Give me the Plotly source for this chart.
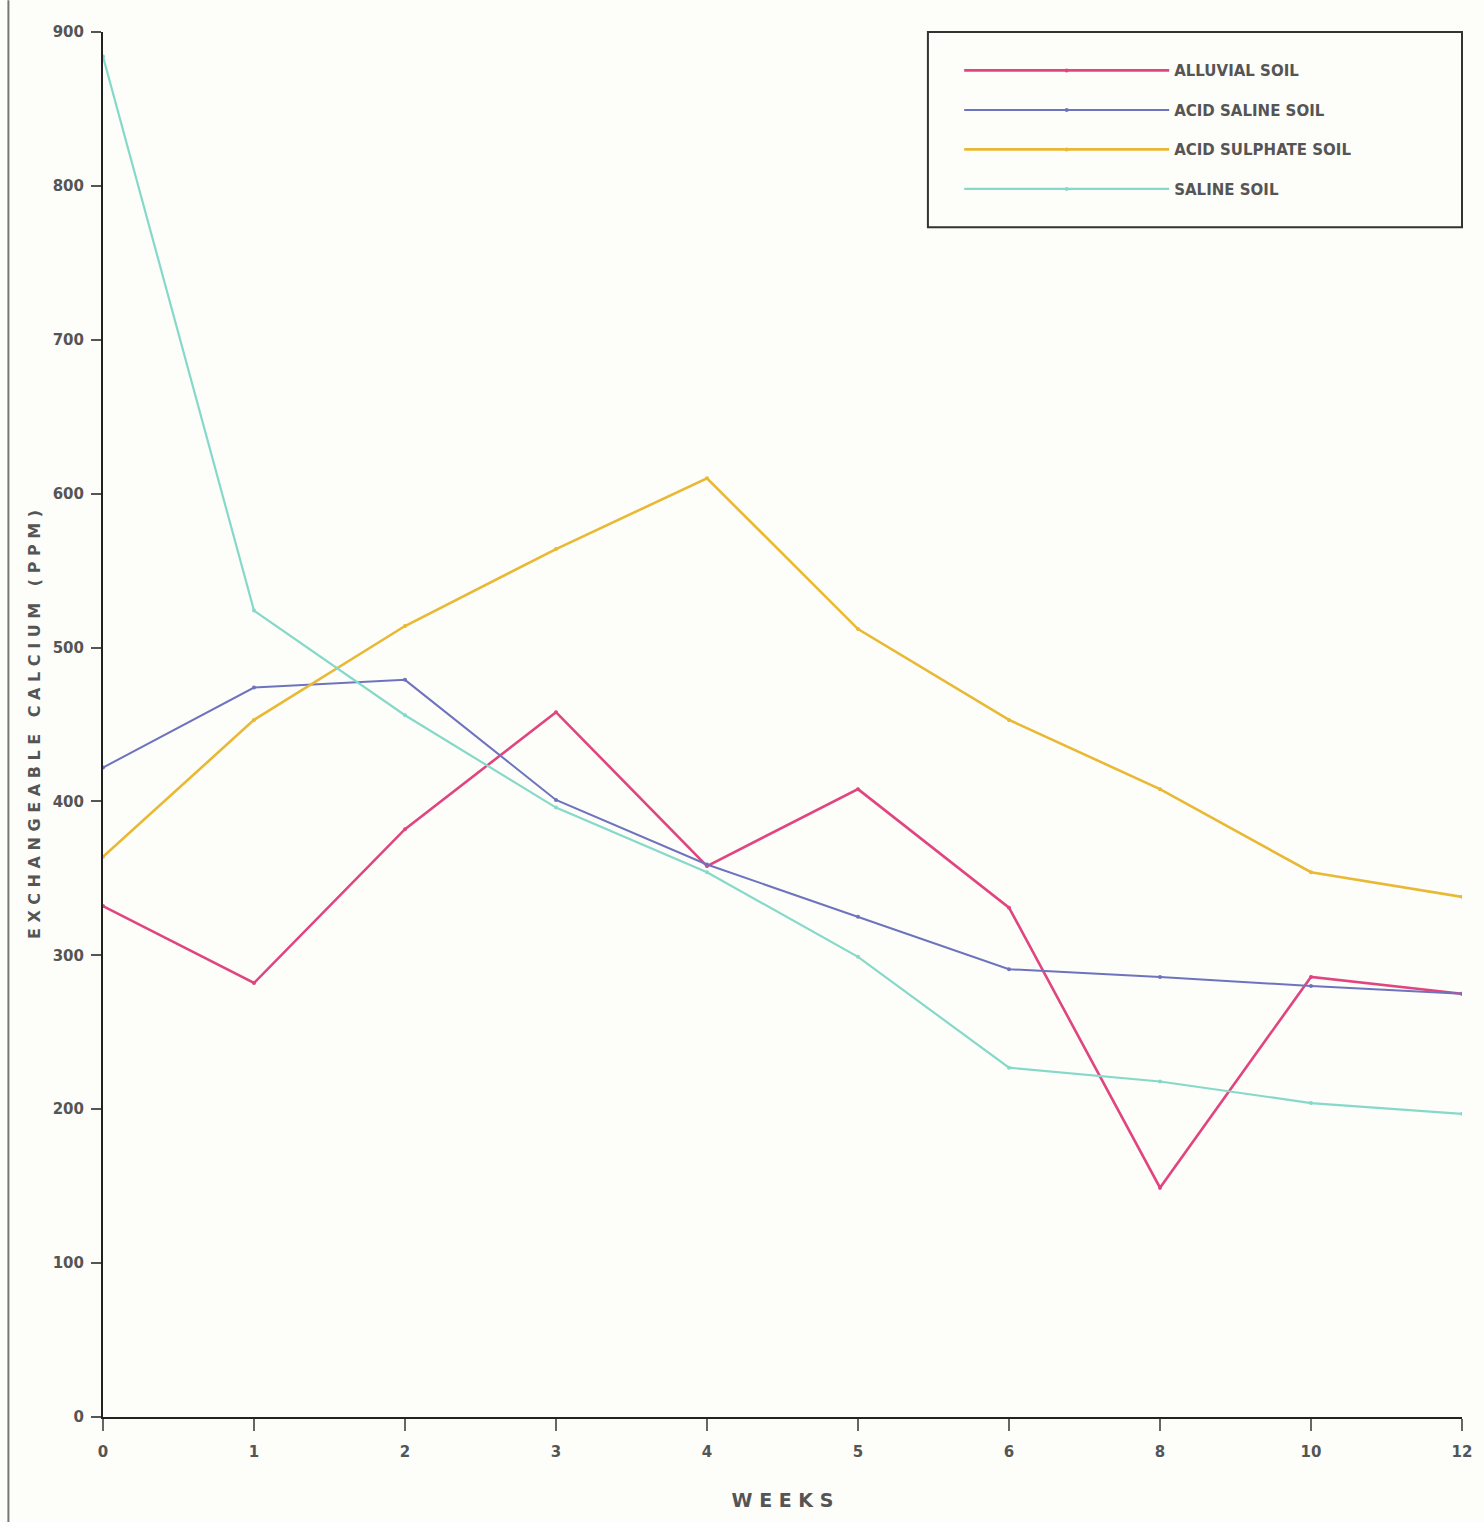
import plotly.graph_objects as go

weeks = ["0", "1", "2", "3", "4", "5", "6", "8", "10", "12"]

alluvial = [332, 282, 382, 458, 358, 408, 331, 149, 286, 275]
acid_saline = [422, 474, 479, 401, 359, 325, 291, 286, 280, 275]
acid_sulphate = [364, 453, 514, 564, 610, 512, 453, 408, 354, 338]
saline = [884, 524, 456, 396, 354, 299, 227, 218, 204, 197]

series_names = ["ALLUVIAL SOIL", "ACID SALINE SOIL", "ACID SULPHATE SOIL", "SALINE SOIL"]
series_values = [alluvial, acid_saline, acid_sulphate, saline]
series_colors = ["#e0457f", "#6e73bd", "#e9b935", "#86d9c9"]
series_widths = [2.6, 2.0, 2.6, 2.2]

y_ticks = [0, 100, 200, 300, 400, 500, 600, 700, 800, 900]

x_title = "W E E K S"
y_title = "E X C H A N G E A B L E   C A L C I U M   ( P P M )"

label_font = dict(family="DejaVu Sans", size=15, color="#555555", weight="bold")

fig = go.Figure()
for i, (name, vals, col, w) in enumerate(zip(series_names, series_values, series_colors, series_widths)):
    fig.add_trace(go.Scatter(
        x=weeks, y=vals, name=name, mode="lines+markers",
        line=dict(color=col, width=w),
        marker=dict(color=col, size=4),
        legendgroup=f"g{i}",
    ))

fig.update_layout(
    width=1484, height=1522,
    margin=dict(l=103, r=17, t=32, b=105),
    paper_bgcolor="#fdfdfa",
    plot_bgcolor="#fdfdfa",
    showlegend=True,
    legend=dict(
        x=0.63, y=0.984, xanchor="left", yanchor="top",
        bgcolor="rgba(0,0,0,0)", borderwidth=0,
        traceorder="grouped", tracegroupgap=17,
        itemwidth=205,
        font=dict(family="DejaVu Sans", size=15, color="#555555", weight="bold"),
    ),
    xaxis=dict(
        type="category", range=[0, 9],
        showgrid=False, zeroline=False,
        showline=True, linecolor="#222222", linewidth=2,
        ticks="outside", ticklen=12, tickwidth=2, tickcolor="#666666",
        tickfont=label_font, ticklabelstandoff=8,
        title=dict(text=x_title, font=dict(family="DejaVu Sans", size=19, color="#555555", weight="bold"), standoff=34),
    ),
    yaxis=dict(
        range=[0, 900], tickvals=y_ticks,
        showgrid=False, zeroline=False,
        showline=True, linecolor="#222222", linewidth=2,
        ticks="outside", ticklen=10, tickwidth=2, tickcolor="#555555",
        tickfont=label_font, ticklabelstandoff=4,
        title=dict(text=y_title, font=dict(family="DejaVu Sans", size=16, color="#555555", weight="bold"), standoff=8),
    ),
)

# legend frame
fig.add_shape(type="rect", xref="paper", yref="paper",
              x0=0.607, x1=1.0, y0=0.859, y1=1.0,
              line=dict(color="#333333", width=2), fillcolor="rgba(0,0,0,0)", layer="above")
# scanned page edge on the left
fig.add_shape(type="line", xref="paper", yref="paper",
              x0=-0.0696, x1=-0.0696, y0=-0.076, y1=1.023,
              line=dict(color="#777777", width=2))

fig.write_html("out.html")
